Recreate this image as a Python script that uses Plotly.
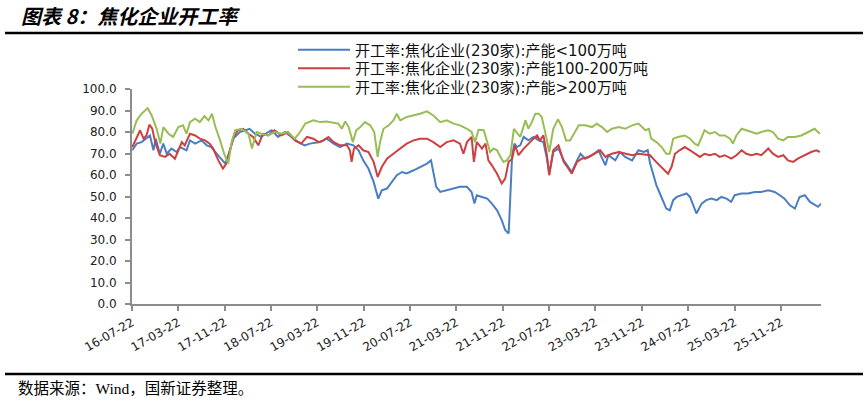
import pandas as pd
import plotly.graph_objects as go

BASE_DATE = "2016-07-22"
DAYS_PER_MONTH = 30.4375

# ---- data: months elapsed since BASE_DATE, and operating rate (%) ----
blue_m = [0.05, 0.8, 1.66, 2.5, 3.1, 3.7, 4.1, 4.8, 5.4, 6.0,
          6.8, 7.7, 8.3, 9.4, 10.0, 10.9, 12.0, 12.9, 13.7, 14.6,
          15.5, 16.1, 16.9, 17.5, 18.6, 19.5, 20.3, 21.2, 22.3, 23.5,
          24.1, 25.2, 26.4, 27.5, 28.7, 29.8, 30.7, 32.5, 33.6, 34.8,
          35.9, 37.1, 38.2, 39.1, 39.9, 40.8, 41.7, 42.5, 43.1, 44.0,
          44.8, 45.7, 46.6, 47.4, 48.6, 49.7, 50.9, 51.6, 52.0, 52.5,
          53.2, 54.3, 55.5, 56.6, 57.8, 58.6, 59.1, 59.5, 60.4, 61.3,
          62.1, 63.0, 63.8, 64.4, 65.0, 65.3, 65.6, 66.0, 66.4, 67.0,
          67.6, 68.4, 69.3, 70.2, 71.0, 71.6, 72.0, 72.7, 73.6, 74.5,
          75.3, 75.9, 76.8, 77.4, 78.2, 79.4, 80.5, 81.7, 82.2, 83.4,
          84.2, 85.1, 86.3, 87.4, 88.3, 89.0, 89.4, 90.0, 90.5, 91.1,
          91.7, 92.2, 92.8, 93.4, 94.0, 94.8, 95.7, 96.3, 96.8, 97.4,
          98.3, 99.1, 100.0, 100.9, 101.7, 102.6, 103.4, 104.0, 105.2, 106.3,
          107.5, 108.6, 109.8, 110.9, 111.8, 112.6, 113.5, 114.4, 115.2, 116.1,
          117.0, 117.8, 118.4, 118.9]
blue_v = [71.5, 74.6, 75.3, 76.9, 78.4, 71.5, 76.9, 69.9, 74.6, 69.9,
          72.3, 70.7, 73.0, 71.5, 76.1, 74.6, 76.1, 73.8, 73.0, 69.9,
          66.8, 65.3, 71.5, 76.9, 80.0, 80.8, 81.5, 79.2, 77.7, 80.0,
          80.8, 77.7, 80.0, 77.7, 75.3, 73.8, 74.6, 75.3, 76.9, 74.6,
          73.0, 74.6, 73.8, 71.5, 66.8, 63.0, 56.8, 49.0, 52.9, 53.7,
          56.8, 59.9, 61.4, 60.7, 62.2, 63.7, 65.3, 66.8, 61.4, 54.5,
          52.1, 52.9, 53.7, 54.5, 54.5, 52.1, 46.7, 50.6, 49.8, 49.0,
          46.7, 43.6, 39.0, 34.4, 32.8, 50.6, 69.2, 74.6, 73.0, 73.8,
          77.7, 76.1, 77.7, 76.1, 75.3, 67.6, 60.6, 70.7, 72.3, 66.8,
          63.7, 61.4, 66.8, 69.9, 67.6, 69.2, 71.5, 64.5, 69.2, 66.8,
          70.7, 68.4, 66.8, 71.5, 70.7, 71.5, 65.5, 59.9, 55.2, 51.4,
          47.5, 44.4, 43.6, 48.3, 49.8, 50.6, 51.4, 49.8, 46.0, 42.1,
          46.7, 48.3, 49.0, 48.3, 49.8, 49.0, 47.5, 50.6, 51.4, 51.4,
          52.1, 52.1, 52.9, 52.1, 50.6, 49.0, 46.0, 44.4, 49.8, 50.6,
          47.5, 46.0, 45.2, 46.7]

red_m = [0.05, 0.8, 1.4, 2.0, 2.5, 3.0, 3.5, 4.0, 4.8, 5.7,
         6.5, 7.4, 8.0, 8.6, 9.1, 10.0, 10.9, 11.7, 12.6, 13.4,
         14.0, 14.9, 15.7, 16.3, 16.9, 17.5, 18.3, 19.2, 20.1, 20.9,
         21.8, 22.6, 23.5, 24.6, 25.8, 26.9, 28.1, 29.2, 30.2, 31.3,
         32.2, 33.0, 33.9, 34.8, 35.9, 37.1, 37.6, 37.9, 38.3, 39.1,
         39.9, 40.8, 41.7, 42.4, 43.1, 44.0, 45.1, 46.3, 47.4, 48.6,
         49.7, 50.9, 52.0, 53.2, 54.3, 55.5, 56.6, 57.2, 57.8, 58.6,
         59.0, 59.5, 60.4, 61.0, 61.5, 62.1, 63.0, 63.8, 64.4, 65.0,
         65.6, 66.1, 66.7, 67.6, 68.4, 69.3, 69.9, 70.4, 71.0, 71.6,
         72.0, 72.7, 73.6, 74.5, 75.3, 75.9, 76.8, 77.6, 78.8, 79.9,
         80.8, 81.7, 82.8, 84.0, 85.1, 86.3, 87.4, 88.6, 89.4, 90.2,
         91.1, 92.0, 92.5, 93.1, 93.7, 94.5, 95.4, 96.3, 97.1, 98.0,
         98.8, 99.7, 100.6, 101.4, 102.3, 103.4, 104.3, 105.2, 106.0, 106.9,
         107.8, 108.6, 109.8, 110.6, 111.5, 112.4, 113.2, 114.1, 114.9, 116.1,
         117.2, 118.1, 118.7]
red_v = [73.0, 77.7, 80.8, 76.9, 78.4, 83.4, 81.5, 75.3, 69.2, 68.4,
         69.9, 67.6, 71.5, 75.3, 73.8, 79.2, 78.4, 76.9, 76.1, 74.6,
         72.3, 66.8, 63.0, 65.3, 71.5, 77.7, 80.8, 81.5, 79.2, 77.7,
         73.8, 79.2, 78.4, 80.8, 78.4, 80.0, 76.1, 74.6, 77.7, 76.9,
         75.3, 76.1, 77.7, 75.3, 73.8, 73.8, 71.5, 66.1, 72.3, 73.8,
         71.5, 70.7, 66.1, 59.1, 63.7, 67.6, 69.9, 72.3, 74.6, 76.1,
         76.9, 76.9, 75.3, 73.0, 75.3, 76.1, 74.6, 69.9, 75.3, 77.7,
         66.1, 75.3, 72.3, 74.6, 66.8, 64.5, 60.6, 56.0, 58.3, 66.1,
         67.6, 73.8, 69.2, 72.3, 74.6, 76.9, 78.4, 76.1, 78.4, 69.2,
         59.9, 71.5, 73.8, 66.1, 63.0, 60.6, 66.1, 67.6, 68.4, 69.9,
         71.5, 68.4, 69.9, 70.7, 69.9, 69.2, 69.9, 69.5, 69.2, 66.8,
         64.5, 62.2, 60.6, 63.7, 69.9, 71.5, 73.0, 71.5, 69.9, 68.4,
         69.9, 69.2, 69.9, 68.4, 69.2, 67.6, 69.2, 71.5, 69.9, 69.2,
         69.9, 69.2, 72.3, 69.9, 68.4, 69.2, 66.8, 66.1, 67.6, 69.2,
         70.7, 71.5, 70.7]

green_m = [0.05, 0.8, 1.66, 2.7, 3.4, 4.25, 4.9, 5.4, 6.3, 7.1,
           8.0, 8.8, 9.4, 10.0, 10.9, 11.7, 12.5, 13.2, 13.8, 14.4,
           15.2, 15.9, 16.6, 17.2, 17.8, 18.9, 20.1, 20.7, 21.5, 22.3,
           23.5, 24.6, 25.8, 26.9, 28.1, 29.0, 29.9, 31.3, 32.5, 33.6,
           34.8, 35.6, 36.2, 36.8, 37.4, 38.1, 38.7, 39.4, 40.2, 41.1,
           41.8, 42.4, 42.8, 43.4, 44.3, 45.1, 45.7, 46.3, 47.4, 48.6,
           49.7, 50.9, 52.0, 53.2, 54.3, 55.5, 56.6, 57.8, 58.6, 59.2,
           59.8, 60.7, 61.3, 61.8, 62.4, 63.0, 63.6, 64.1, 64.7, 65.3,
           65.9, 66.4, 67.0, 67.9, 68.4, 69.0, 69.6, 70.2, 70.7, 71.3,
           72.0, 72.7, 73.5, 74.2, 74.9, 75.6, 76.5, 77.1, 78.2, 79.4,
           80.2, 81.1, 82.0, 82.8, 84.0, 85.1, 86.3, 87.4, 88.6, 89.2,
           89.6, 90.5, 91.4, 92.2, 92.8, 93.4, 94.2, 95.4, 96.3, 97.1,
           97.7, 98.3, 98.8, 99.7, 100.6, 101.4, 102.3, 103.2, 103.7, 104.3,
           105.2, 106.0, 106.9, 107.8, 108.6, 109.8, 110.6, 111.5, 112.4, 113.2,
           114.4, 115.5, 116.7, 117.8, 118.7]
green_v = [79.2, 85.4, 88.5, 91.1, 87.7, 81.5, 74.6, 82.3, 79.2, 77.7,
           82.3, 83.1, 79.2, 84.6, 86.2, 84.6, 87.4, 85.4, 88.5, 82.3,
           76.1, 69.9, 65.3, 75.3, 80.8, 81.5, 79.2, 72.3, 80.0, 79.2,
           78.4, 80.0, 79.2, 80.0, 76.9, 80.0, 83.9, 85.4, 84.6, 84.9,
           84.3, 83.9, 81.5, 84.9, 82.3, 75.3, 80.8, 82.3, 84.6, 83.1,
           80.0, 68.4, 75.3, 81.5, 83.1, 85.4, 88.5, 85.4, 87.0, 87.7,
           88.5, 89.6, 87.7, 84.6, 85.4, 83.9, 83.1, 81.5, 80.0, 75.3,
           81.0, 80.8, 74.6, 70.7, 72.3, 71.5, 68.4, 66.1, 66.8, 69.2,
           81.5, 80.0, 77.7, 85.4, 81.5, 84.6, 88.5, 88.5, 87.0, 80.0,
           70.7, 81.5, 85.9, 82.3, 76.1, 76.1, 80.0, 83.1, 83.1, 82.3,
           83.9, 82.3, 80.0, 81.5, 82.3, 81.5, 83.1, 83.9, 80.8, 81.5,
           76.9, 75.3, 73.0, 69.9, 69.9, 76.9, 77.7, 78.4, 76.9, 74.6,
           73.8, 77.7, 80.8, 79.2, 80.0, 78.4, 78.4, 76.9, 74.6, 78.4,
           81.5, 80.8, 80.0, 79.2, 80.0, 80.8, 80.0, 76.9, 76.1, 77.7,
           77.7, 78.4, 80.0, 81.5, 79.2]

series_names = ["开工率:焦化企业(230家):产能<100万吨",
                "开工率:焦化企业(230家):产能100-200万吨",
                "开工率:焦化企业(230家):产能>200万吨"]
series_colors = ["#4A7EC4", "#CC4040", "#98BD55"]

tick_dates = ["2016-07-22", "2017-03-22", "2017-11-22", "2018-07-22", "2019-03-22",
              "2019-11-22", "2020-07-22", "2021-03-22", "2021-11-22", "2022-07-22",
              "2023-03-22", "2023-11-22", "2024-07-22", "2025-03-22", "2025-11-22"]
tick_text = ["16-07-22", "17-03-22", "17-11-22", "18-07-22", "19-03-22",
             "19-11-22", "20-07-22", "21-03-22", "21-11-22", "22-07-22",
             "23-03-22", "23-11-22", "24-07-22", "25-03-22", "25-11-22"]
y_ticks = [0, 10, 20, 30, 40, 50, 60, 70, 80, 90, 100]
x_end_month = 118.9

title_text = "图表 8：焦化企业开工率"
source_text = "数据来源：Wind，国新证券整理。"

# ---- helpers ----
base = pd.Timestamp(BASE_DATE)


def to_dates(months):
    return [base + pd.Timedelta(days=m * DAYS_PER_MONTH) for m in months]


W, H = 868, 403
PL, PR, PT, PB = 132, 821, 89, 304   # plot area in pixels


def px_x(px):
    return (px - PL) / (PR - PL)


def px_y(py):
    return (PB - py) / (PB - PT)


legend_ids = ["legend", "legend2", "legend3"]
legend_rows_px = [50, 68.5, 87]

fig = go.Figure()
for m, v, name, col, lg in [(blue_m, blue_v, series_names[0], series_colors[0], legend_ids[0]),
                            (red_m, red_v, series_names[1], series_colors[1], legend_ids[1]),
                            (green_m, green_v, series_names[2], series_colors[2], legend_ids[2])]:
    fig.add_trace(go.Scatter(x=to_dates(m), y=v, mode="lines", name=name, legend=lg,
                             line=dict(color=col, width=2)))

legend_style = dict(xref="paper", yref="paper", xanchor="left", yanchor="middle",
                    font=dict(family="DejaVu Sans, Noto Sans CJK SC", size=15, color="#111111"),
                    bgcolor="rgba(0,0,0,0)", itemwidth=52)
legend_layout = {}
for lg, row in zip(legend_ids, legend_rows_px):
    legend_layout[lg] = dict(legend_style, x=px_x(293), y=px_y(row))

axis_col = "#8C8C8C"
fig.update_layout(
    width=W, height=H,
    margin=dict(l=PL, r=W - PR, t=PT, b=H - PB, autoexpand=False),
    paper_bgcolor="white", plot_bgcolor="white",
    showlegend=True,
    title=dict(text="<b><i>" + title_text + "</i></b>", xref="container", yref="container",
               x=21 / W, y=1 - 17 / H, xanchor="left", yanchor="middle",
               font=dict(family="Noto Sans CJK SC", size=20, color="#000000")),
    xaxis=dict(type="date", automargin=False,
               range=[base, base + pd.Timedelta(days=x_end_month * DAYS_PER_MONTH)],
               tickmode="array", tickvals=tick_dates, ticktext=tick_text,
               tickangle=-30, showgrid=False, zeroline=False,
               showline=True, linecolor=axis_col, linewidth=2,
               ticks="outside", ticklen=5, tickwidth=2, tickcolor=axis_col,
               tickfont=dict(family="DejaVu Sans", size=12, color="#222222")),
    yaxis=dict(range=[0, 100], automargin=False, tickmode="array", tickvals=y_ticks,
               tickformat=".1f", showgrid=False, zeroline=False,
               showline=True, linecolor=axis_col, linewidth=2,
               ticks="outside", ticklen=5, tickwidth=2, tickcolor=axis_col,
               ticklabelstandoff=6,
               tickfont=dict(family="DejaVu Sans", size=12, color="#222222")),
    shapes=[
        dict(type="line", xref="paper", yref="paper",
             x0=px_x(5), x1=px_x(863), y0=px_y(33), y1=px_y(33),
             line=dict(color="black", width=2.5)),
        dict(type="line", xref="paper", yref="paper",
             x0=px_x(5), x1=px_x(863), y0=px_y(374), y1=px_y(374),
             line=dict(color="black", width=2.5)),
    ],
    annotations=[
        dict(text=source_text, xref="paper", yref="paper",
             x=px_x(16), y=px_y(388), xanchor="left", yanchor="middle",
             showarrow=False,
             font=dict(family="Liberation Serif, Noto Sans CJK SC", size=15.5, color="#000000")),
    ],
    **legend_layout,
)

fig.write_html("out.html")
